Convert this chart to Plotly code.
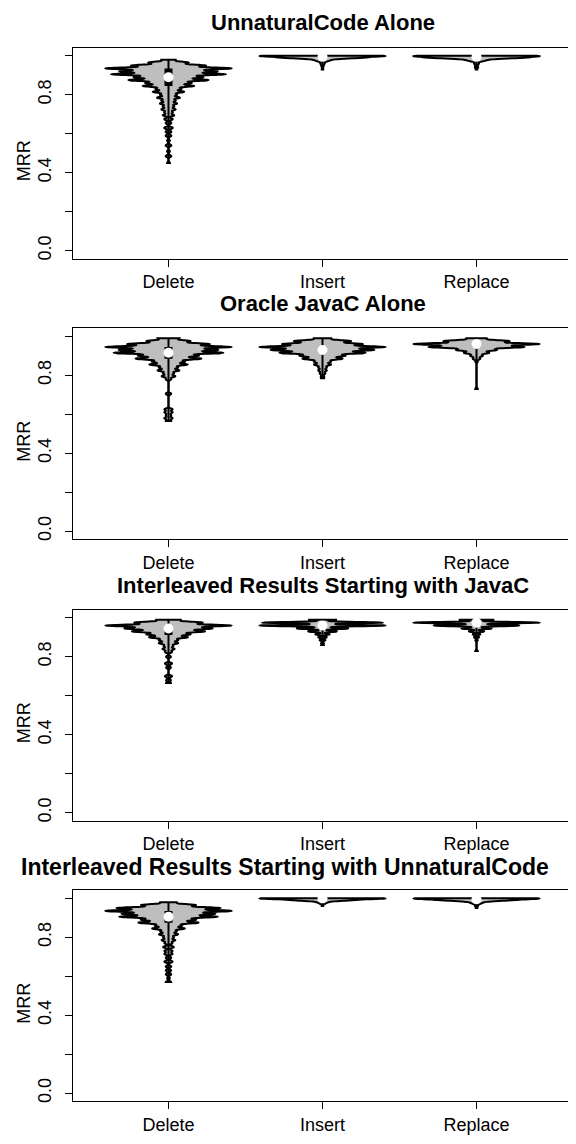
import numpy as np
import plotly.graph_objects as go

W, H = 576, 1144

CATEGORIES = ["Delete", "Insert", "Replace"]
PANEL_TITLES = [
    "UnnaturalCode Alone",
    "Oracle JavaC Alone",
    "Interleaved Results Starting with JavaC",
    "Interleaved Results Starting with UnnaturalCode",
]
Y_TICK_VALUES = [0.0, 0.2, 0.4, 0.6, 0.8, 1.0]
Y_TICK_LABELS = ["0.0", "", "0.4", "", "0.8", ""]
Y_TITLE = "MRR"

# ---- Panel 1: UnnaturalCode alone (MRR level, number of files) ----
UC_DELETE_MRR = [0.98, 0.965, 0.95, 0.935, 0.92, 0.905, 0.89, 0.875, 0.86, 0.845, 0.83, 0.815,
                 0.80, 0.785, 0.77, 0.755, 0.74, 0.725, 0.71, 0.695, 0.675, 0.655, 0.63, 0.61,
                 0.59, 0.565, 0.54, 0.51, 0.485, 0.45]
UC_DELETE_N = [5, 14, 26, 44, 34, 40, 24, 28, 16, 18, 9, 11,
               6, 8, 5, 6, 4, 5, 3, 4, 3, 2, 3, 2, 2, 1, 2, 1, 2, 1]
UC_INSERT_MRR = [1.0, 0.995, 0.99, 0.985, 0.98, 0.975, 0.97, 0.96, 0.95, 0.94, 0.93]
UC_INSERT_N = [70, 30, 40, 12, 8, 5, 4, 3, 2, 1, 1]
UC_REPLACE_MRR = [1.0, 0.995, 0.99, 0.985, 0.98, 0.975, 0.97, 0.96, 0.95, 0.94, 0.93]
UC_REPLACE_N = [60, 34, 42, 14, 9, 6, 4, 3, 2, 2, 1]

# ---- Panel 2: Oracle JavaC alone ----
JC_DELETE_MRR = [0.99, 0.975, 0.96, 0.945, 0.93, 0.915, 0.90, 0.885, 0.87, 0.855, 0.84, 0.825,
                 0.81, 0.795, 0.78, 0.705, 0.625, 0.61, 0.595, 0.58, 0.565]
JC_DELETE_N = [8, 16, 30, 46, 36, 40, 22, 24, 12, 14, 7, 8, 4, 5, 2, 2, 3, 3, 2, 3, 2]
JC_INSERT_MRR = [0.99, 0.975, 0.96, 0.945, 0.93, 0.915, 0.90, 0.885, 0.87, 0.855, 0.84, 0.825,
                 0.81, 0.795, 0.785]
JC_INSERT_N = [6, 20, 28, 44, 36, 30, 16, 14, 6, 6, 3, 3, 2, 1, 1]
JC_REPLACE_MRR = [0.99, 0.975, 0.96, 0.945, 0.93, 0.915, 0.90, 0.885, 0.87, 0.73]
JC_REPLACE_N = [8, 26, 50, 38, 16, 10, 5, 3, 1, 1]

# ---- Panel 3: interleaved, JavaC first ----
IJ_DELETE_MRR = [0.99, 0.975, 0.96, 0.945, 0.93, 0.915, 0.90, 0.885, 0.87, 0.855, 0.84, 0.825,
                 0.80, 0.765, 0.745, 0.70, 0.68, 0.665]
IJ_DELETE_N = [10, 28, 52, 36, 30, 18, 16, 8, 8, 4, 5, 3, 2, 3, 2, 3, 2, 2]
IJ_INSERT_MRR = [0.99, 0.975, 0.96, 0.945, 0.93, 0.915, 0.90, 0.885, 0.87, 0.86]
IJ_INSERT_N = [10, 42, 44, 18, 10, 5, 3, 2, 1, 1]
IJ_REPLACE_MRR = [0.99, 0.975, 0.96, 0.945, 0.93, 0.915, 0.90, 0.885, 0.83]
IJ_REPLACE_N = [14, 50, 34, 12, 6, 3, 2, 1, 1]

# ---- Panel 4: interleaved, UnnaturalCode first ----
IU_DELETE_MRR = [0.98, 0.965, 0.95, 0.935, 0.92, 0.905, 0.89, 0.875, 0.86, 0.845, 0.83, 0.815,
                 0.80, 0.785, 0.77, 0.75, 0.73, 0.715, 0.695, 0.675, 0.65, 0.63, 0.61, 0.59, 0.57]
IU_DELETE_N = [6, 20, 38, 46, 34, 36, 20, 22, 10, 12, 6, 7,
               4, 5, 3, 4, 3, 3, 2, 3, 2, 2, 2, 1, 2]
IU_INSERT_MRR = [1.0, 0.995, 0.99, 0.985, 0.98, 0.975, 0.97, 0.96]
IU_INSERT_N = [80, 30, 30, 8, 5, 3, 2, 1]
IU_REPLACE_MRR = [1.0, 0.995, 0.99, 0.985, 0.98, 0.975, 0.97, 0.96, 0.95]
IU_REPLACE_N = [70, 32, 34, 10, 6, 4, 3, 2, 1]

PANELS = [
    [(UC_DELETE_MRR, UC_DELETE_N), (UC_INSERT_MRR, UC_INSERT_N), (UC_REPLACE_MRR, UC_REPLACE_N)],
    [(JC_DELETE_MRR, JC_DELETE_N), (JC_INSERT_MRR, JC_INSERT_N), (JC_REPLACE_MRR, JC_REPLACE_N)],
    [(IJ_DELETE_MRR, IJ_DELETE_N), (IJ_INSERT_MRR, IJ_INSERT_N), (IJ_REPLACE_MRR, IJ_REPLACE_N)],
    [(IU_DELETE_MRR, IU_DELETE_N), (IU_INSERT_MRR, IU_INSERT_N), (IU_REPLACE_MRR, IU_REPLACE_N)],
]

# layout in pixels
PANEL_TOPS = [40, 321, 603, 884]
PANEL_H = 211
X_LEFT, X_RIGHT = 65, 564
TITLE_CENTERS = [314.5, 314.5, 314.5, 277]
TITLE_SIZES = [22, 22, 22, 23]
TITLE_GAPS = [25, 24.5, 24.5, 23.5]
FONT = "Liberation Sans, Arial, Helvetica, sans-serif"
GREY = "#BEBEBE"
TICK_FS = 18

fig = go.Figure()
layout = dict(
    width=W, height=H,
    margin=dict(l=0, r=0, t=0, b=0),
    paper_bgcolor="white", plot_bgcolor="white",
    showlegend=False, violinmode="overlay",
    font=dict(family=FONT, color="black", size=TICK_FS),
    annotations=[],
)

for i, panel in enumerate(PANELS):
    n = i + 1
    xa = "x" if n == 1 else f"x{n}"
    ya = "y" if n == 1 else f"y{n}"
    top = PANEL_TOPS[i]
    y0 = 1 - (top + PANEL_H) / H
    y1 = 1 - top / H
    for cat, (vals, counts) in zip(CATEGORIES, panel):
        samples = np.repeat(np.array(vals, dtype=float), np.array(counts))
        spread = max(vals) - min(vals)
        bw = 0.005 if spread > 0.2 else 0.0035
        fig.add_trace(go.Violin(
            x=[cat] * len(samples), y=samples, xaxis=xa, yaxis=ya,
            width=0.82, bandwidth=bw, spanmode="hard", points=False,
            fillcolor=GREY, line=dict(color="black", width=2),
            box_visible=False, meanline_visible=False, hoverinfo="skip",
        ))
        q1, med, q3 = np.percentile(samples, [25, 50, 75])
        fig.add_trace(go.Scatter(
            x=[cat, cat], y=[samples.min(), samples.max()], xaxis=xa, yaxis=ya,
            mode="lines", line=dict(color="black", width=2), hoverinfo="skip"))
        fig.add_trace(go.Scatter(
            x=[cat, cat], y=[q1, q3], xaxis=xa, yaxis=ya,
            mode="lines", line=dict(color="black", width=8), hoverinfo="skip"))
        fig.add_trace(go.Scatter(
            x=[cat], y=[med], xaxis=xa, yaxis=ya, mode="markers",
            marker=dict(color="white", size=10, line=dict(width=0)), hoverinfo="skip"))

    xkey = "xaxis" if n == 1 else f"xaxis{n}"
    ykey = "yaxis" if n == 1 else f"yaxis{n}"
    layout[xkey] = dict(
        domain=[X_LEFT / W, X_RIGHT / W], anchor=ya,
        type="category", categoryorder="array", categoryarray=CATEGORIES,
        range=[-0.62, 2.62], showgrid=False, zeroline=False,
        showline=True, mirror=True, linecolor="black", linewidth=1.3,
        ticks="outside", ticklen=7, tickwidth=1.3, tickcolor="black",
        tickfont=dict(size=TICK_FS, family=FONT, color="black"), ticklabelstandoff=0,
    )
    layout[ykey] = dict(
        domain=[y0, y1], anchor=xa, range=[-0.04, 1.04],
        tickmode="array", tickvals=Y_TICK_VALUES, ticktext=Y_TICK_LABELS,
        tickangle=-90, showgrid=False, zeroline=False,
        showline=True, mirror=True, linecolor="black", linewidth=1.3,
        ticks="outside", ticklen=7, tickwidth=1.3, tickcolor="black",
        tickfont=dict(size=TICK_FS, family=FONT, color="black"), ticklabelstandoff=7,
    )
    layout["annotations"].append(dict(
        text=f"<b>{PANEL_TITLES[i]}</b>", xref="paper", yref="paper",
        x=TITLE_CENTERS[i] / W, y=1 - (top - TITLE_GAPS[i]) / H,
        xanchor="center", yanchor="middle", showarrow=False, borderpad=0,
        font=dict(size=TITLE_SIZES[i], family=FONT, color="black"),
    ))
    layout["annotations"].append(dict(
        text=Y_TITLE, xref="paper", yref="paper", textangle=-90,
        x=16 / W, y=1 - (top + PANEL_H / 2 + 8) / H, xanchor="center", yanchor="middle",
        showarrow=False, borderpad=0, font=dict(size=TICK_FS, family=FONT, color="black"),
    ))

fig.update_layout(**layout)
fig.write_html("out.html")
